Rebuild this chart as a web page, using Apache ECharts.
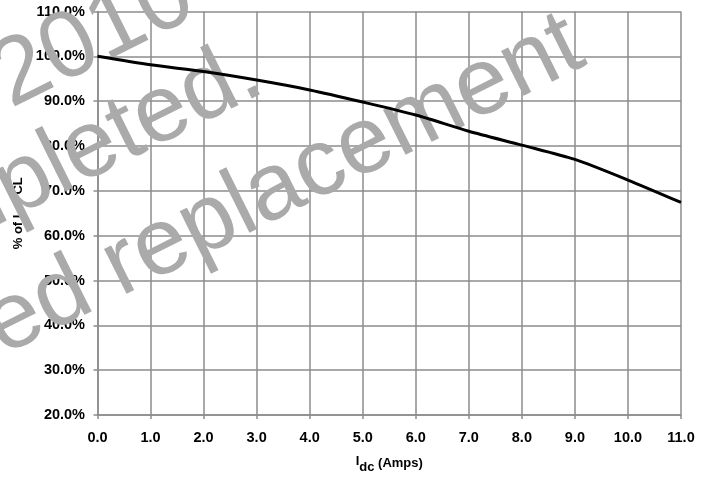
<!DOCTYPE html>
<html>
<head>
<meta charset="utf-8">
<script src="https://cdn.jsdelivr.net/npm/echarts@6/dist/echarts.min.js"></script>
<style>
html,body{margin:0;padding:0;background:#fff;}
#chart{width:714px;height:478px;}
</style>
</head>
<body>
<div id="chart"></div>
<script>
// Data
const currentAmps = [0, 1, 2, 3, 4, 5, 6, 7, 8, 9, 10, 11];
const percentIcl = [100.0, 98.1, 96.6, 94.7, 92.5, 89.8, 86.9, 83.3, 80.2, 77.0, 72.4, 67.4];
const xTickLabels = ['0.0','1.0','2.0','3.0','4.0','5.0','6.0','7.0','8.0','9.0','10.0','11.0'];
const yTickLabels = ['20.0%','30.0%','40.0%','50.0%','60.0%','70.0%','80.0%','90.0%','100.0%','110.0%'];
const watermarkLines = ['2010', 'completed.', 'ed replacement'];

const FONT = '"Liberation Sans", Arial, sans-serif';
const GRID_COLOR = '#8c8c8c';

const chart = echarts.init(document.getElementById('chart'), null, {renderer: 'canvas'});
const deg = Math.PI / 180;
const WM_ANGLE = 26.5 * deg;
const wmStyle = (text, align) => ({
  text: text,
  fill: '#aaaaaa',
  font: '95px ' + FONT,
  align: align,
  verticalAlign: 'middle'
});
const labelFont = {color: '#000', fontFamily: FONT, fontWeight: 'bold', fontSize: 14.5};
const nameFont = {fontFamily: FONT, fontWeight: 'bold', fontSize: 13, color: '#000', lineHeight: 16};

chart.setOption({
  animation: false,
  grid: {left: 97.5, right: 33, top: 11.5, bottom: 63, containLabel: false, outerBoundsMode: 'none'},
  xAxis: {
    type: 'value', min: 0, max: 11, interval: 1,
    axisLine: {show: true, lineStyle: {color: GRID_COLOR, width: 1.5}},
    axisTick: {show: true, length: 4, lineStyle: {color: GRID_COLOR, width: 1.5}},
    splitLine: {show: true, lineStyle: {color: GRID_COLOR, width: 1.5}},
    axisLabel: Object.assign({margin: 15, formatter: v => xTickLabels[Math.round(v)]}, labelFont),
    name: '{a|I}{b|dc}{c| (Amps)}',
    nameLocation: 'middle', nameGap: 40,
    nameTextStyle: {
      rich: {
        a: Object.assign({verticalAlign: 'top'}, nameFont),
        b: Object.assign({padding: [8, 0, 0, 0]}, nameFont),
        c: Object.assign({}, nameFont)
      }
    }
  },
  yAxis: {
    type: 'value', min: 20, max: 110, interval: 10,
    axisLine: {show: true, lineStyle: {color: GRID_COLOR, width: 1.5}},
    axisTick: {show: true, length: 4, lineStyle: {color: GRID_COLOR, width: 1.5}},
    splitLine: {show: true, lineStyle: {color: GRID_COLOR, width: 1.5}},
    axisLabel: Object.assign({margin: 12.5, formatter: v => yTickLabels[Math.round((v - 20) / 10)]}, labelFont),
    name: '{a|% of I}{b|CL}',
    nameLocation: 'middle', nameGap: 58, nameRotate: 90,
    nameTextStyle: {
      padding: [0, 0, 0, 0],
      rich: {
        a: Object.assign({}, nameFont),
        b: Object.assign({padding: [0, 0, 0, 20]}, nameFont)
      }
    }
  },
  graphic: [
    {type: 'text', z: 50, x: -1, y: 85, rotation: WM_ANGLE, style: wmStyle(watermarkLines[0], 'left')},
    {type: 'text', z: 50, x: 256, y: 67, rotation: WM_ANGLE, style: wmStyle(watermarkLines[1], 'right')},
    {type: 'text', z: 50, x: 577, y: 40, rotation: WM_ANGLE, style: wmStyle(watermarkLines[2], 'right')}
  ],
  series: [{
    type: 'line',
    z: 100,
    data: currentAmps.map((x, i) => [x, percentIcl[i]]),
    smooth: 0.25,
    showSymbol: false,
    lineStyle: {color: '#000', width: 3}
  }]
});
</script>
</body>
</html>
